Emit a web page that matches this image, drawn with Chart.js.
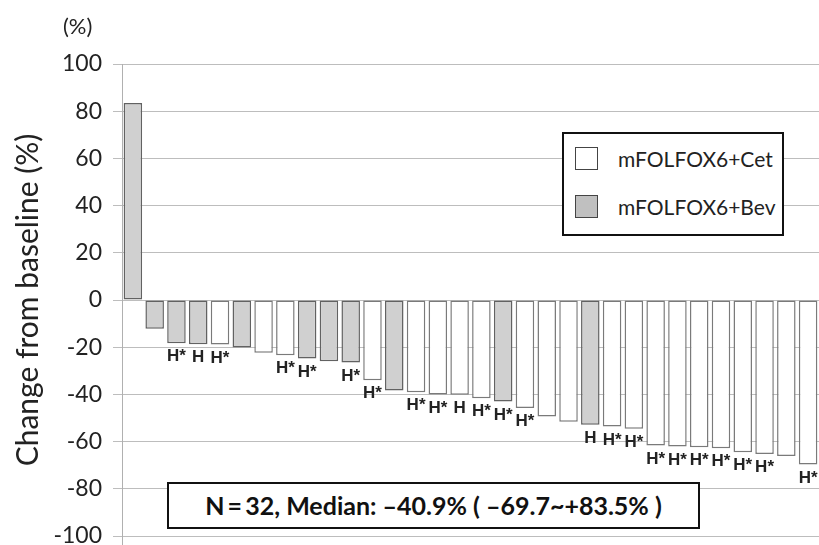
<!DOCTYPE html>
<html>
<head>
<meta charset="utf-8">
<script src="https://cdn.jsdelivr.net/npm/chart.js@4"></script>
<style>
  html, body { margin: 0; padding: 0; background: #fff; }
  #wrap { position: relative; width: 819px; height: 545px; overflow: hidden; }
  #pct { position: absolute; left: 63px; top: 14px; font: 22px Lato, sans-serif; line-height: 24px; color: #222; }
  #legend { position: absolute; left: 562px; top: 132px; width: 218px; height: 100px;
            border: 2px solid #111; background: #fff; font: 21px Lato, sans-serif; color: #222; }
  #legend .item { position: absolute; left: 11px; height: 23px; line-height: 23px; }
  #legend .sw { position: absolute; left: 0; top: 0; width: 21px; height: 21px; border: 1px solid #444; }
  #legend .txt { position: absolute; left: 43px; top: 0; white-space: nowrap; }
  #note { position: absolute; left: 167px; top: 482px; width: 529px; height: 43px;
          border: 2px solid #111; background: #fff; font: bold 25px Lato, sans-serif;
          color: #111; text-align: center; line-height: 43px; white-space: nowrap; }
</style>
</head>
<body>
<div id="wrap">
  <canvas id="waterfall" width="819" height="545"></canvas>
  <div id="pct">(%)</div>
  <div id="legend"></div>
  <div id="note">N&thinsp;=&thinsp;32, Median: &ndash;40.9% ( &ndash;69.7~+83.5% )</div>
</div>
<script>
document.addEventListener('DOMContentLoaded', function() {
    // Datos: un paciente por barra, ordenados de mayor a menor
    const pacientes = Array.from({length: 32}, (_, i) => String(i + 1));
    const cambio = [83.5, -12.2, -18.3, -18.7, -18.9, -20.1, -22.4, -23.4, -24.8, -26.0, -26.5,
                    -34.0, -38.4, -39.1, -40.0, -40.2, -41.6, -43.0, -45.8, -49.4, -51.6, -52.9,
                    -53.6, -54.6, -61.7, -62.1, -62.4, -62.8, -64.5, -65.3, -66.1, -69.7];
    const brazo = ['Bev', 'Bev', 'Bev', 'Bev', 'Cet', 'Bev', 'Cet', 'Cet', 'Bev', 'Bev', 'Bev',
                   'Cet', 'Bev', 'Cet', 'Cet', 'Cet', 'Cet', 'Bev', 'Cet', 'Cet', 'Cet', 'Bev',
                   'Cet', 'Cet', 'Cet', 'Cet', 'Cet', 'Cet', 'Cet', 'Cet', 'Cet', 'Cet'];
    const marcas = ['', '', 'H*', 'H', 'H*', '', '', 'H*', 'H*', '', 'H*',
                    'H*', '', 'H*', 'H*', 'H', 'H*', 'H*', 'H*', '', '', 'H',
                    'H*', 'H*', 'H*', 'H*', 'H*', 'H*', 'H*', 'H*', '', 'H*'];
    const grupos = [
        { clave: 'Cet', nombre: 'mFOLFOX6+Cet', relleno: '#ffffff', borde: '#7a7a7a', muestra: '#ffffff' },
        { clave: 'Bev', nombre: 'mFOLFOX6+Bev', relleno: '#d0d0d0', borde: '#626262', muestra: '#c0c0c0' }
    ];

    // Etiquetas "H" / "H*" bajo cada barra
    const etiquetasPlugin = {
        id: 'etiquetas',
        afterDatasetsDraw(chart) {
            const ctx = chart.ctx;
            ctx.save();
            ctx.font = 'bold 17px "Liberation Sans", Arial, sans-serif';
            ctx.fillStyle = '#222';
            ctx.textAlign = 'center';
            ctx.textBaseline = 'top';
            chart.data.datasets.forEach((ds, di) => {
                chart.getDatasetMeta(di).data.forEach((bar, i) => {
                    if (ds.data[i] === null || !marcas[i]) return;
                    ctx.fillText(marcas[i], bar.x, bar.y + 5);
                });
            });
            ctx.restore();
        }
    };

    // El eje Y sigue hasta el borde inferior
    const ejePlugin = {
        id: 'ejeY',
        afterDraw(chart) {
            const c = chart.ctx, y = chart.scales.y, a = chart.chartArea;
            c.save();
            c.strokeStyle = '#b0b0b0';
            c.lineWidth = 1;
            c.beginPath();
            c.moveTo(y.right + 0.5, a.bottom);
            c.lineTo(y.right + 0.5, chart.height);
            c.stroke();
            c.restore();
        }
    };

    const ctx = document.getElementById('waterfall').getContext('2d');
    new Chart(ctx, {
        type: 'bar',
        data: {
            labels: pacientes,
            datasets: grupos.map(g => ({
                label: g.nombre,
                data: cambio.map((v, i) => brazo[i] === g.clave ? v : null),
                backgroundColor: g.relleno,
                borderColor: g.borde,
                borderWidth: 1.5,
                borderSkipped: false,
                barPercentage: 0.85,
                categoryPercentage: 1
            }))
        },
        options: {
            responsive: false,
            animation: false,
            devicePixelRatio: 1,
            layout: { padding: { top: 64, bottom: 9, right: 0, left: 0 } },
            plugins: {
                legend: { display: false },
                tooltip: { enabled: false }
            },
            scales: {
                x: { display: false, stacked: true },
                y: {
                    stacked: true,
                    min: -100,
                    max: 100,
                    afterFit: s => { s.width = 122; s.paddingTop = 0; s.paddingBottom = 0; },
                    ticks: {
                        stepSize: 20,
                        padding: 11,
                        color: '#222',
                        font: { family: 'Lato', size: 23 }
                    },
                    grid: { color: '#bdbdbd', lineWidth: 1, tickLength: 9 },
                    border: { color: '#b0b0b0', width: 1 },
                    title: {
                        display: true,
                        text: 'Change from baseline (%)',
                        color: '#222',
                        font: { family: 'Lato', size: 30 },
                        padding: { top: 10, bottom: 0 }
                    }
                }
            }
        },
        plugins: [etiquetasPlugin, ejePlugin]
    });

    // Leyenda
    const leyenda = document.getElementById('legend');
    grupos.forEach((g, i) => {
        const item = document.createElement('div');
        item.className = 'item';
        item.style.top = (13 + i * 48) + 'px';
        item.innerHTML = '<span class="sw" style="background:' + g.muestra + '"></span><span class="txt">' + g.nombre + '</span>';
        leyenda.appendChild(item);
    });
});
</script>
</body>
</html>
